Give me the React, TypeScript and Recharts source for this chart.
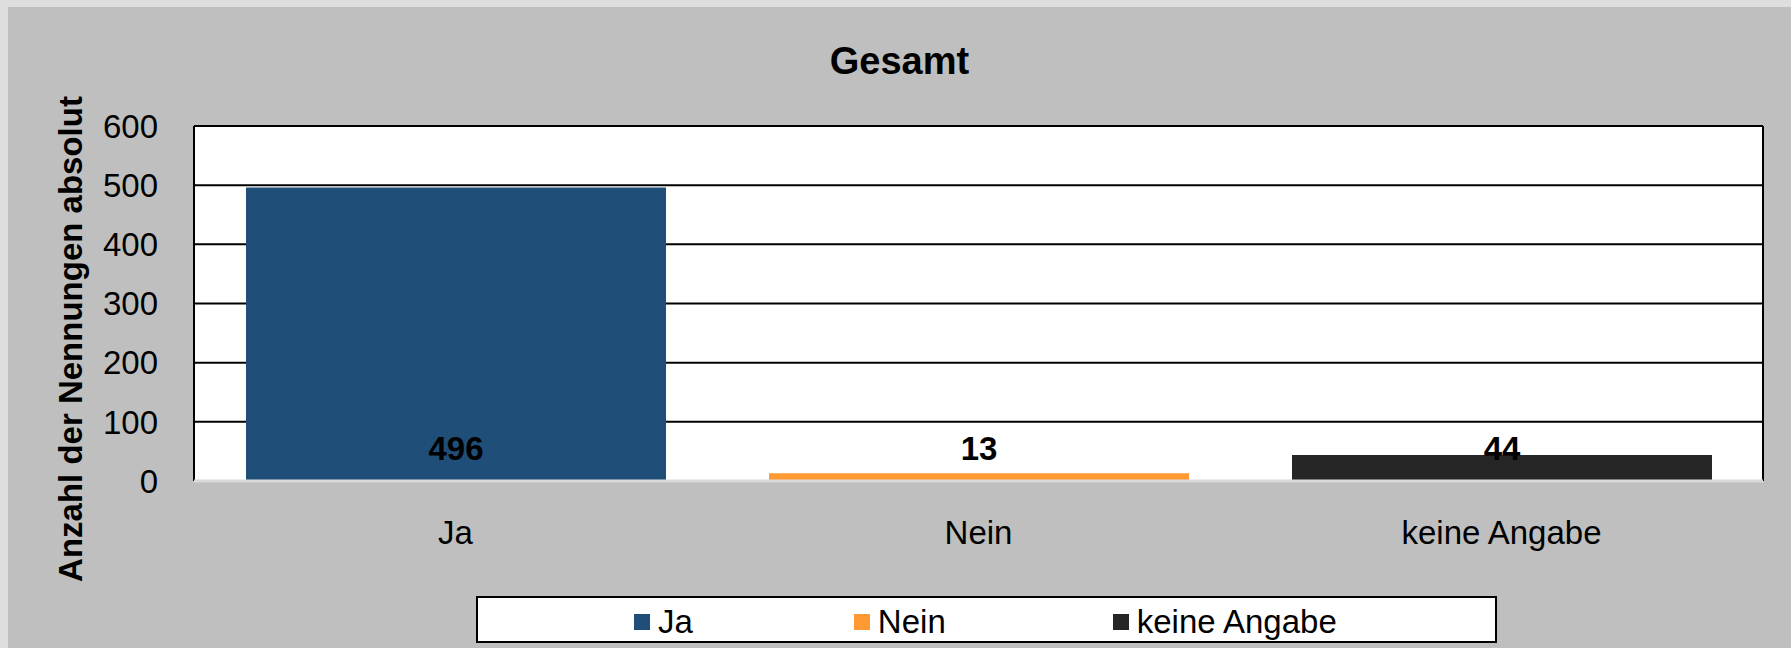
import { BarChart, Bar, XAxis, YAxis, CartesianGrid, Cell, LabelList } from "recharts";

const categories = ["Ja", "Nein", "keine Angabe"];
const counts = [496, 13, 44];
const colors = ["#1f4e79", "#ff9933", "#262626"];
const yTicks = [0, 100, 200, 300, 400, 500, 600];

const title = "Gesamt";
const yLabel = "Anzahl der Nennungen absolut";

const FONT = "'Liberation Sans', Arial, sans-serif";

const chartData = categories.map((name, i) => ({ name, count: counts[i] }));

function BaseLabel(props: any) {
  const { x, y, width, height, value } = props;
  const base = Number(y) + Number(height);
  return (
    <text
      x={Number(x) + Number(width) / 2}
      y={base - 21}
      textAnchor="middle"
      fontFamily={FONT}
      fontSize={33}
      fontWeight="bold"
      fill="#000"
    >
      {value}
    </text>
  );
}

export default function App() {
  return (
    <div style={{ position: "absolute", top: 0, left: 0, width: 1791, height: 648, background: "#dedede" }}>
      <div
        style={{
          position: "absolute",
          left: 8,
          top: 7,
          width: 1783,
          height: 641,
          background: "#bfbfbf",
          fontFamily: FONT,
        }}
      >
        <div
          style={{
            position: "absolute",
            top: 35,
            left: 0,
            width: 1783,
            textAlign: "center",
            fontSize: 38,
            lineHeight: "38px",
            fontWeight: "bold",
            color: "#000",
          }}
        >
          {title}
        </div>

        <BarChart
          width={1783}
          height={641}
          data={chartData}
          margin={{ top: 119, right: 28, bottom: 67, left: 0 }}
          style={{ position: "absolute", top: 0, left: 0 }}
        >
          <CartesianGrid
            fill="#fff"
            stroke="#000"
            strokeWidth={2}
            verticalCoordinatesGenerator={({ offset }: any) => [offset.left, offset.left + offset.width]}
          />
          <XAxis
            dataKey="name"
            axisLine={{ stroke: "#d9d9d9", strokeWidth: 3 }}
            tickLine={false}
            tickSize={0}
            tickMargin={40}
            height={100}
            tick={{ fill: "#000", fontSize: 33, fontFamily: FONT }}
          />
          <YAxis
            type="number"
            domain={[0, 600]}
            ticks={yTicks}
            interval={0}
            width={186}
            axisLine={false}
            tickLine={false}
            tickSize={0}
            tickMargin={36}
            tick={{ fill: "#000", fontSize: 33, fontFamily: FONT }}
            label={{
              content: () => (
                <text
                  x={62}
                  y={332}
                  transform="rotate(-90, 62, 332)"
                  textAnchor="middle"
                  dominantBaseline="central"
                  fontFamily={FONT}
                  fontSize={33}
                  fontWeight="bold"
                  fill="#000"
                >
                  {yLabel}
                </text>
              ),
            }}
          />
          <Bar dataKey="count" barSize={420} isAnimationActive={false}>
            {chartData.map((d, i) => (
              <Cell key={d.name} fill={colors[i]} />
            ))}
            <LabelList dataKey="count" content={BaseLabel} />
          </Bar>
        </BarChart>

        <div
          style={{
            position: "absolute",
            left: 468,
            top: 589,
            width: 1021,
            height: 47,
            boxSizing: "border-box",
            background: "#fff",
            border: "2px solid #000",
            display: "flex",
            alignItems: "center",
            paddingLeft: 156,
            paddingTop: 4,
            whiteSpace: "nowrap",
          }}
        >
          {categories.map((c, i) => (
            <div key={c} style={{ display: "flex", alignItems: "center", flexShrink: 0, marginRight: i === 0 ? 161 : 167 }}>
              <span style={{ width: 16, height: 16, background: colors[i], display: "inline-block", marginRight: 8 }} />
              <span style={{ fontSize: 33, lineHeight: "36px", color: "#000", whiteSpace: "nowrap" }}>{c}</span>
            </div>
          ))}
        </div>
      </div>
    </div>
  );
}
